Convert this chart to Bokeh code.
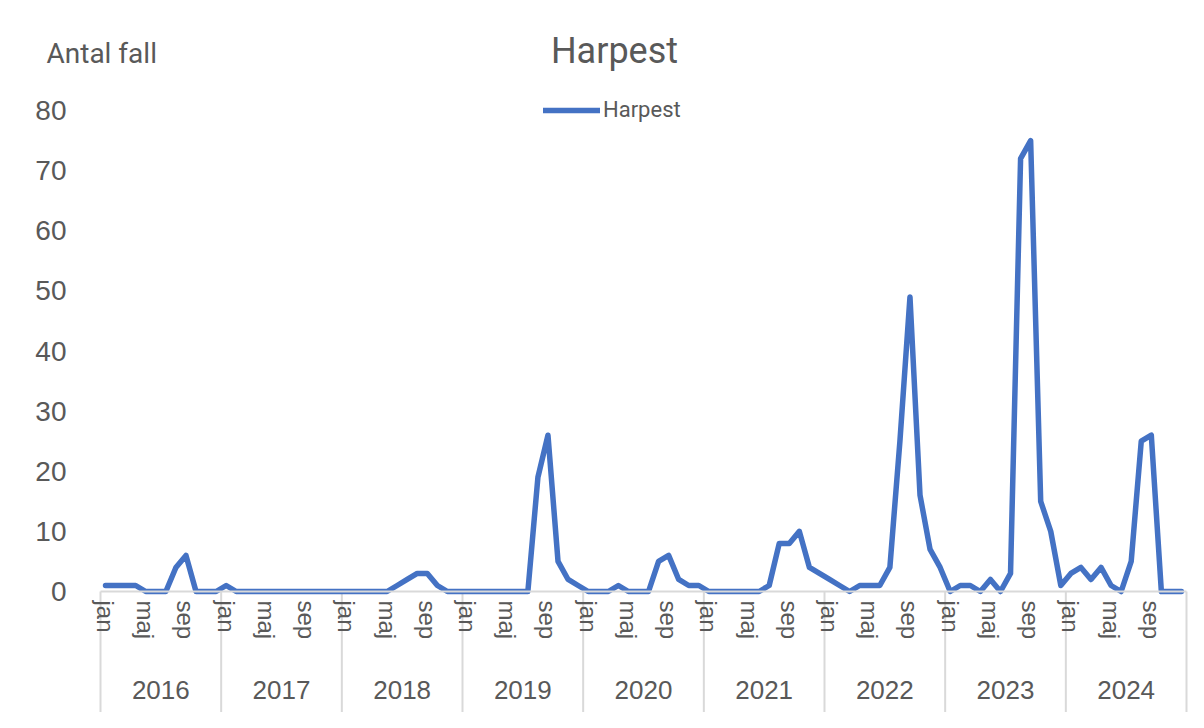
from bokeh.plotting import figure
from bokeh.models import Range1d, FixedTicker, LinearAxis, Label, Legend, LegendItem
from bokeh.embed import file_html
from bokeh.resources import INLINE

# ---- data ----
years = ["2016", "2017", "2018", "2019", "2020", "2021", "2022", "2023", "2024"]
months = ["jan", "feb", "mar", "apr", "maj", "jun", "jul", "aug", "sep", "okt", "nov", "dec"]
shown_months = ["jan", "maj", "sep"]
y_ticks = [0, 10, 20, 30, 40, 50, 60, 70, 80]

v2016 = [1, 1, 1, 1, 0, 0, 0, 4, 6, 0, 0, 0]
v2017 = [1, 0, 0, 0, 0, 0, 0, 0, 0, 0, 0, 0]
v2018 = [0, 0, 0, 0, 0, 1, 2, 3, 3, 1, 0, 0]
v2019 = [0, 0, 0, 0, 0, 0, 0, 19, 26, 5, 2, 1]
v2020 = [0, 0, 0, 1, 0, 0, 0, 5, 6, 2, 1, 1]
v2021 = [0, 0, 0, 0, 0, 0, 1, 8, 8, 10, 4, 3]
v2022 = [2, 1, 0, 1, 1, 1, 4, 25, 49, 16, 7, 4]
v2023 = [0, 1, 1, 0, 2, 0, 3, 72, 75, 15, 10, 1]
v2024 = [3, 4, 2, 4, 1, 0, 5, 25, 26, 0, 0, 0]

series_name = "Harpest"
y_title = "Antal fall"

values = v2016 + v2017 + v2018 + v2019 + v2020 + v2021 + v2022 + v2023 + v2024
x_idx = list(range(len(values)))

GRAY_TXT = "#595959"
AXIS_GRAY = "#d9d9d9"
BLUE = "#4472C4"

W, H = 1188, 712
# plot area (px): left 100 .. right 1186, value 0 at y=591, value 80 at y=110
n = len(values)
month_px = (1186 - 100) / n
X_START = -0.5 - 100 / month_px
X_END = -0.5 + (W - 100) / month_px
unit_px = (591 - 110) / 80
Y_START = -(H - 591) / unit_px
Y_END = 80 + 110 / unit_px

p = figure(width=W, height=H, output_backend="svg", toolbar_location=None,
           x_range=Range1d(X_START, X_END), y_range=Range1d(Y_START, Y_END),
           x_axis_type=None, y_axis_type=None)
p.title.visible = False
p.min_border = 0
p.min_border_left = 0
p.min_border_right = 0
p.min_border_top = 0
p.min_border_bottom = 0
p.outline_line_color = None
p.background_fill_color = "white"
p.border_fill_color = "white"

# y axis (value axis)
yax = LinearAxis(ticker=FixedTicker(ticks=y_ticks))
yax.fixed_location = -0.5
yax.axis_line_color = None
yax.major_tick_line_color = None
yax.minor_tick_line_color = None
yax.major_label_standoff = 28
yax.major_label_text_font = "Liberation Sans"
yax.major_label_text_font_size = "28px"
yax.major_label_text_color = GRAY_TXT
p.add_layout(yax, "left")

# year separators (category axis group lines)
sep_x = [12 * k - 0.5 for k in range(len(years) + 1)]
p.segment(x0=sep_x, y0=[0] * len(sep_x), x1=sep_x, y1=[Y_START] * len(sep_x),
          line_color=AXIS_GRAY, line_width=2)

# month axis
month_ticks = [i for i in x_idx if months[i % 12] in shown_months]
max_ax = LinearAxis(ticker=FixedTicker(ticks=month_ticks),
                    major_label_overrides={i: months[i % 12] for i in month_ticks})
max_ax.fixed_location = 0
max_ax.bounds = (-0.5, n - 0.5)
max_ax.axis_line_color = AXIS_GRAY
max_ax.axis_line_width = 2
max_ax.major_tick_line_color = None
max_ax.minor_tick_line_color = None
max_ax.major_label_orientation = "vertical"
max_ax.major_label_standoff = 3
max_ax.major_label_text_font = "Liberation Sans"
max_ax.major_label_text_font_size = "24px"
max_ax.major_label_text_color = GRAY_TXT
p.add_layout(max_ax, "below")

# year axis
year_ticks = [12 * k + 5.5 for k in range(len(years))]
yr_ax = LinearAxis(ticker=FixedTicker(ticks=year_ticks),
                   major_label_overrides={t: y for t, y in zip(year_ticks, years)})
yr_ax.fixed_location = 0
yr_ax.axis_line_color = None
yr_ax.major_tick_line_color = None
yr_ax.minor_tick_line_color = None
yr_ax.major_label_standoff = 83
yr_ax.major_label_text_font = "Liberation Sans"
yr_ax.major_label_text_font_size = "26px"
yr_ax.major_label_text_color = GRAY_TXT
p.add_layout(yr_ax, "below")

# data line
r = p.line(x_idx, values, line_color=BLUE, line_width=5.5, line_join="round", line_cap="round")

legend = Legend(items=[LegendItem(label=series_name, renderers=[r])])
legend.location = (543, 590)
legend.glyph_width = 57
legend.glyph_height = 18
legend.label_standoff = 3
legend.padding = 0
legend.margin = 0
legend.border_line_color = None
legend.background_fill_alpha = 0
legend.label_text_font = "Roboto"
legend.label_text_font_size = "22px"
legend.label_text_color = GRAY_TXT
p.add_layout(legend, "center")

# chart title and value-axis title
title_x = -0.5 + (614 - 100) / month_px
title_y = 80 + (110 - 50) / unit_px
p.add_layout(Label(x=title_x, y=title_y, text=series_name, text_align="center", text_baseline="middle",
                   text_font="Roboto", text_font_size="36px", text_color=GRAY_TXT))
ytitle_x = -0.5 + (46 - 100) / month_px
ytitle_y = 80 + (110 - 53) / unit_px
p.add_layout(Label(x=ytitle_x, y=ytitle_y, text=y_title, text_align="left", text_baseline="middle",
                   text_font="Roboto", text_font_size="28px", text_color=GRAY_TXT))

open("out.html", "w").write(file_html(p, INLINE))
